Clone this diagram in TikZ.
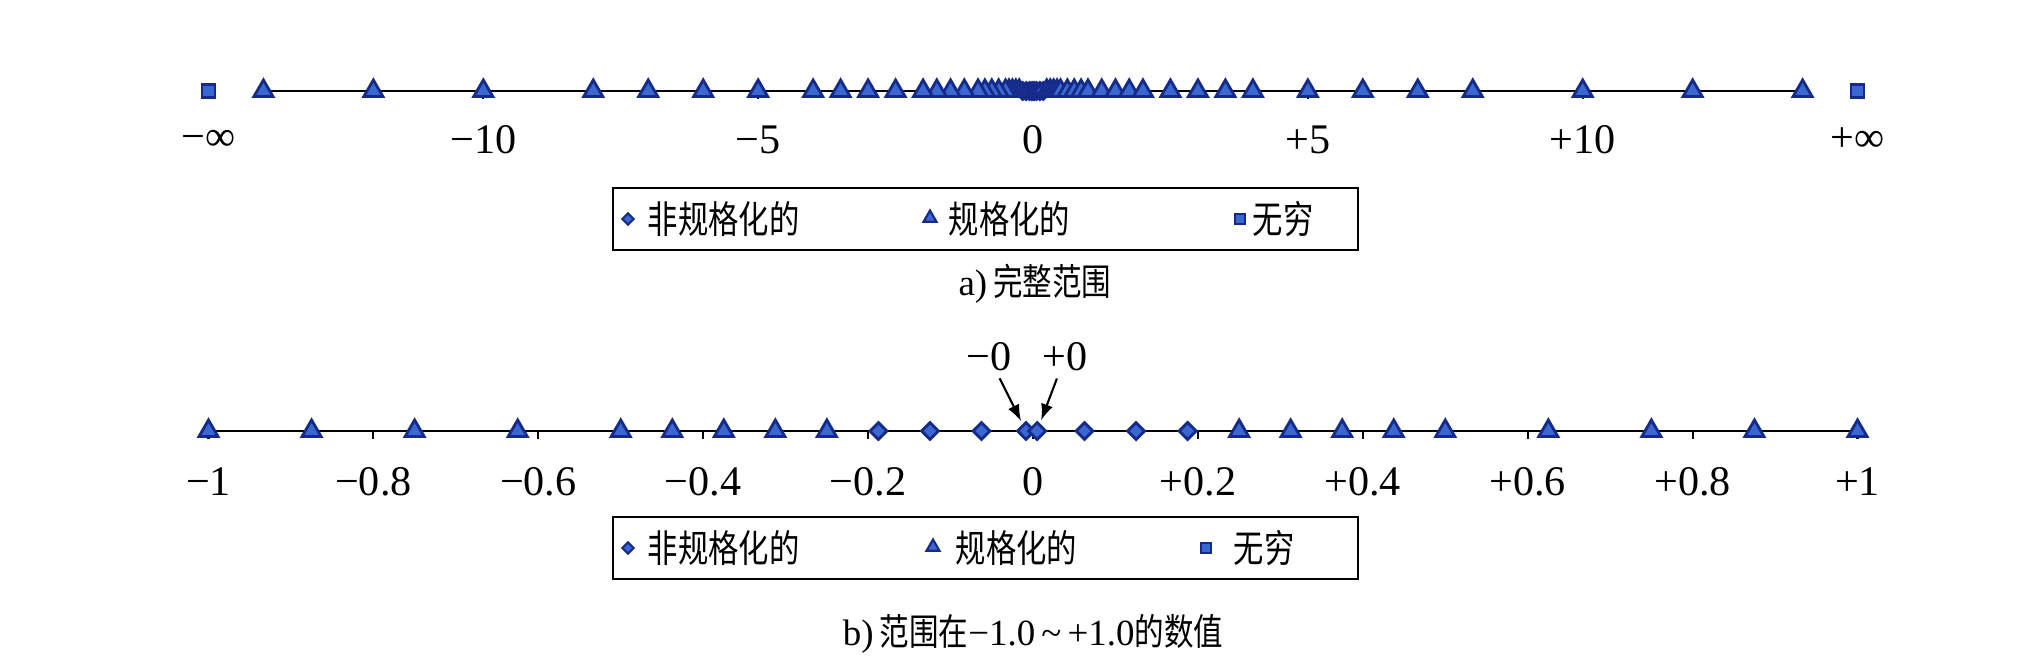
\documentclass[tikz,border=0pt]{standalone}
\usepackage{fontspec}
\setmainfont{Liberation Serif}
\newfontfamily\cjk[FakeStretch=0.8]{Noto Sans CJK SC}
\usetikzlibrary{shapes.geometric}

\definecolor{mkfill}{RGB}{58,104,208}
\definecolor{mkdraw}{RGB}{22,42,138}

\tikzset{
  marker/.style={draw=mkdraw,fill=mkfill,line width=0.8pt,inner sep=0pt,anchor=center},
  tri/.style={marker,regular polygon,regular polygon sides=3,minimum size=0.22cm},
  sqr/.style={marker,rectangle,minimum size=0.13cm},
  dia/.style={marker,diamond,minimum size=0.18cm},
  smalltri/.style={tri,minimum size=0.15cm,line width=0.6pt},
  smallsqr/.style={sqr,minimum size=0.1cm,line width=0.6pt},
  smalldia/.style={dia,minimum size=0.12cm,line width=0.6pt},
  axisline/.style={line width=0.6pt},
  numlabel/.style={font=\fontsize{12}{14}\selectfont,inner sep=0pt},
  legbox/.style={draw,line width=0.6pt,minimum width=7.45cm,minimum height=0.62cm,inner sep=0pt},
  legtext/.style={font=\fontsize{10.8}{12}\selectfont\cjk,inner sep=0pt,anchor=west},
  caption/.style={font=\fontsize{10.5}{12}\selectfont,inner sep=0pt}
}

\begin{document}
\begin{tikzpicture}
  \fill[white] (0,0) rectangle (20.21,-6.66);
  \useasboundingbox (0,0) rectangle (20.21,-6.66);

  % a) full range
  \begin{scope}[shift={(10.33,-0.91)},x=0.5497cm]
    \coordinate (aL) at (-14,0);
    \coordinate (aR) at (14,0);
    \draw [axisline] (aL) -- (aR);
    \foreach \v in {-15,-10,...,15}
      \draw [axisline] (\v,0) -- (\v,-0.08);

    \foreach \v/\t [count=\i] in {-15/−∞,-10/−10,-5/−5,0/0,5/+5,10/+10,15/+∞}
      \node [numlabel] (la\i) at (\v,-0.49) {\t};

    \foreach \v [count=\i] in {-0.1875,-0.125,-0.0625,-0.02,0.02,0.0625,0.125,0.1875}
      \node [dia] (da\i) at (\v,0) {};

    \foreach \v [count=\i] in {0.25,0.3125,0.375,0.4375,0.5,0.625,0.75,0.875,
                               1,1.25,1.5,1.75,2,2.5,3,3.5,4,5,6,7,8,10,12,14}
    {
      \node [tri] (tna\i) at (-\v,0) {};
      \node [tri] (tpa\i) at (\v,0) {};
    }

    \node [sqr] (sa1) at (-15,0) {};
    \node [sqr] (sa2) at (15,0) {};
  \end{scope}

  \node [legbox] (legA) at (9.855,-2.19) {};
  \node [smalldia] (lda) at (6.28,-2.19) {};
  \node [legtext] (lta1) at (6.47,-2.19) {非规格化的};
  \node [smalltri] (lta) at (9.30,-2.18) {};
  \node [legtext] (lta2) at (9.48,-2.19) {规格化的};
  \node [smallsqr] (lsa) at (12.40,-2.19) {};
  \node [legtext] (lta3) at (12.52,-2.19) {无穷};

  \node [caption] (capA) at (10.35,-2.84) {a)\,{\cjk 完整范围}};

  % b) values between -1.0 and +1.0
  \begin{scope}[shift={(10.33,-4.31)},x=8.245cm]
    \coordinate (bL) at (-1,0);
    \coordinate (bR) at (1,0);
    \draw [axisline] (bL) -- (bR);
    \foreach \v in {-1,-0.8,...,1.01}
      \draw [axisline] (\v,0) -- (\v,-0.08);

    \foreach \v/\t [count=\i] in {-1/−1,-0.8/−0.8,-0.6/−0.6,-0.4/−0.4,-0.2/−0.2,0/0,
                                  0.2/+0.2,0.4/+0.4,0.6/+0.6,0.8/+0.8,1/+1}
      \node [numlabel] (lb\i) at (\v,-0.51) {\t};

    \foreach \v [count=\i] in {0.0625,0.125,0.1875}
    {
      \node [dia] (dnb\i) at (-\v,0) {};
      \node [dia] (dpb\i) at (\v,0) {};
    }
    \node [dia] (dmz) at (-0.0085,0) {};
    \node [dia] (dpz) at (0.005,0) {};

    \foreach \v [count=\i] in {0.25,0.3125,0.375,0.4375,0.5,0.625,0.75,0.875,1}
    {
      \node [tri] (tnb\i) at (-\v,0) {};
      \node [tri] (tpb\i) at (\v,0) {};
    }
  \end{scope}

  \node [numlabel] (mzero) at (9.89,-3.57) {−0};
  \node [numlabel] (pzero) at (10.65,-3.57) {+0};
  \draw [-latex,line width=0.6pt,shorten <=2pt,shorten >=1pt] (mzero) -- (dmz);
  \draw [-latex,line width=0.6pt,shorten <=2pt,shorten >=1pt] (pzero) -- (dpz);

  \node [legbox] (legB) at (9.855,-5.48) {};
  \node [smalldia] (ldb) at (6.28,-5.48) {};
  \node [legtext] (ltb1) at (6.47,-5.48) {非规格化的};
  \node [smalltri] (ltb) at (9.33,-5.47) {};
  \node [legtext] (ltb2) at (9.55,-5.48) {规格化的};
  \node [smallsqr] (lsb) at (12.06,-5.48) {};
  \node [legtext] (ltb3) at (12.33,-5.48) {无穷};

  \node [caption] (capB) at (10.33,-6.34) {b)\,{\cjk 范围在}−1.0\,\textasciitilde\,+1.0{\cjk 的数值}};
\end{tikzpicture}
\end{document}
